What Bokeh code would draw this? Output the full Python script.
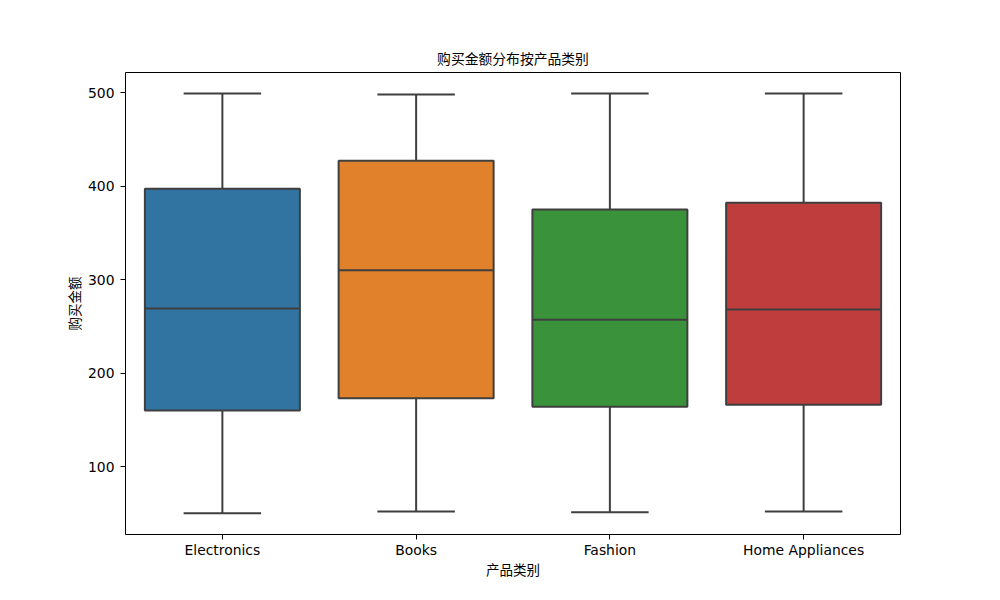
from bokeh.plotting import figure
from bokeh.models import FixedTicker, Range1d, ColumnDataSource
from bokeh.embed import file_html
from bokeh.resources import INLINE

categories = ["Electronics", "Books", "Fashion", "Home Appliances"]
whisker_low = [50, 52, 51, 52]
q1 = [160, 173, 164, 166]
median = [269, 310, 257, 268]
q3 = [397, 427, 375, 382]
whisker_high = [499, 498, 499, 499]
colors = ["#3274a1", "#e1812c", "#3a923a", "#c03d3e"]
y_ticks = [100, 200, 300, 400, 500]

CJK = "Noto Sans CJK SC"
EDGE = "#3f3f3f"

xs = list(range(len(categories)))
box_w = 0.8
cap_w = 0.4

src = ColumnDataSource(dict(
    x=xs,
    lo=whisker_low, q1=q1, med=median, q3=q3, hi=whisker_high, color=colors,
    bl=[x - box_w / 2 for x in xs], br=[x + box_w / 2 for x in xs],
    cl=[x - cap_w / 2 for x in xs], cr=[x + cap_w / 2 for x in xs],
))

p = figure(
    output_backend="svg", toolbar_location=None,
    frame_width=775, frame_height=462,
    min_border_left=125, min_border_right=92, min_border_top=72, min_border_bottom=58,
    x_range=Range1d(-0.5, 3.5), y_range=Range1d(27.3, 521.4),
    title="购买金额分布按产品类别",
)

# whiskers
p.segment(x0="x", y0="q3", x1="x", y1="hi", source=src, line_color=EDGE, line_width=2)
p.segment(x0="x", y0="lo", x1="x", y1="q1", source=src, line_color=EDGE, line_width=2)
# caps
p.segment(x0="cl", y0="hi", x1="cr", y1="hi", source=src, line_color=EDGE, line_width=2)
p.segment(x0="cl", y0="lo", x1="cr", y1="lo", source=src, line_color=EDGE, line_width=2)
# boxes
p.vbar(x="x", width=box_w, bottom="q1", top="q3", source=src,
       fill_color="color", line_color=EDGE, line_width=2)
# medians
p.segment(x0="bl", y0="med", x1="br", y1="med", source=src, line_color=EDGE, line_width=2)

p.title.align = "center"
p.title.text_font = CJK
p.title.text_font_size = "13.8px"
p.title.text_font_style = "normal"
p.title.text_color = "black"

p.xaxis.ticker = FixedTicker(ticks=xs)
p.xaxis.major_label_overrides = {i: c for i, c in enumerate(categories)}
p.yaxis.ticker = FixedTicker(ticks=y_ticks)

p.xaxis.axis_label = "产品类别"
p.yaxis.axis_label = "购买金额"
for ax in (p.xaxis, p.yaxis):
    ax.axis_label_text_font = CJK
    ax.axis_label_text_font_size = "13.5px"
    ax.axis_label_text_font_style = "normal"
    ax.axis_label_text_color = "black"
    ax.major_label_text_font = "DejaVu Sans"
    ax.major_label_text_font_size = "13.9px"
    ax.major_label_text_color = "black"
    ax.axis_line_color = None
    ax.major_tick_line_color = "black"
    ax.major_tick_out = 5
    ax.major_tick_in = 0
    ax.minor_tick_line_color = None
p.xaxis.major_label_standoff = 2
p.yaxis.major_label_standoff = 6
p.xaxis.axis_label_standoff = -2
p.yaxis.axis_label_standoff = 1

p.grid.grid_line_color = None
p.outline_line_color = "black"
p.outline_line_width = 1
p.outline_line_alpha = 1
p.background_fill_color = "white"
p.border_fill_color = "white"

open("out.html", "w").write(file_html(p, INLINE))
